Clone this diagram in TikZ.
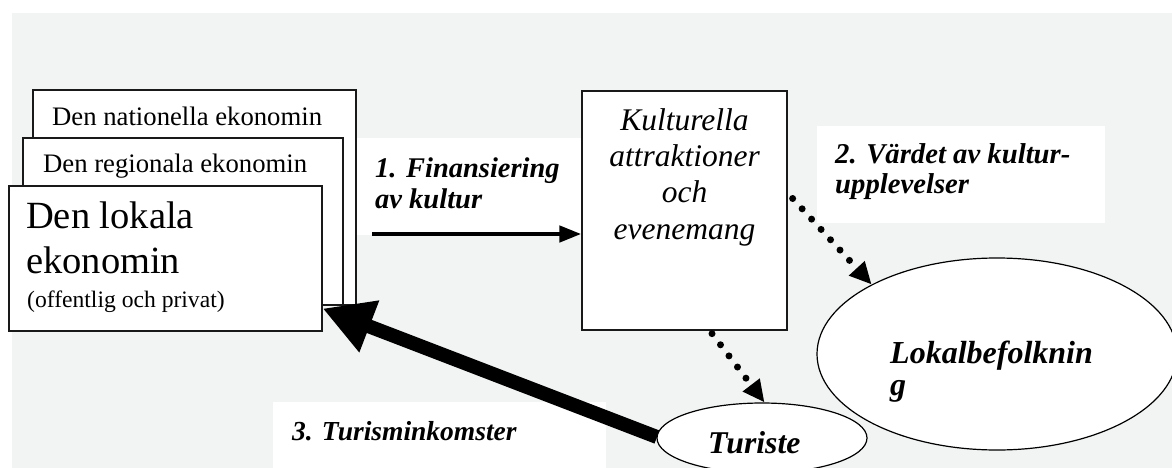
\documentclass[tikz,border=0pt]{standalone}
\usepackage{fontspec}
\setmainfont{Liberation Serif}
\usepackage{tikz}
\usetikzlibrary{positioning,arrows.meta,shapes.geometric}
\definecolor{bggray}{RGB}{242,243,243}

\begin{document}
\begin{tikzpicture}[x=1pt, y=-1pt,
  box/.style={draw=black!90, line width=1.3pt, fill=white, inner sep=0pt},
  oval/.style={ellipse, draw=black, line width=1.2pt, fill=white, inner sep=0pt},
  lab/.style={font=\fontsize{28.5}{31}\selectfont\bfseries\itshape, anchor=base west, inner sep=0pt, align=left},
  txt/.style={anchor=base west, inner sep=0pt, align=left},
  dotarrow/.style={line width=7pt, dash pattern=on 0pt off 14pt, line cap=round, -{Triangle[length=22pt,width=20pt]}}]
\clip (0,0) rectangle (1172,468);
\fill[bggray] (12,13) rectangle (1172,468);
% label backgrounds
\fill[white] (355,138) rectangle (582,235);
\fill[white] (817,126) rectangle (1105,223);
\fill[white] (273,402) rectangle (606,468);
% economy boxes (multi-line texts sit on their last baseline)
\node[box, minimum width=323pt, minimum height=215pt] (nat) at (194.5,197.5) {};
\node[txt, font=\fontsize{26.7}{30}\selectfont] (nattext) at (52,125) {Den nationella ekonomin};
\node[box, minimum width=320pt, minimum height=167pt] (reg) at (183,221.5) {};
\node[txt, font=\fontsize{26.7}{30}\selectfont] (regtext) at (43,172) {Den regionala ekonomin};
\node[box, minimum width=313pt, minimum height=145pt] (lok) at (165.5,258.5) {};
\node[txt, font=\fontsize{38.5}{45}\selectfont] (loktext) at (26,273) {Den lokala\\ekonomin};
\node[txt, font=\fontsize{23.6}{26}\selectfont] (lokdetail) at (27,307) {(offentlig och privat)};
% culture box
\node[box, minimum width=205pt, minimum height=239pt] (kultur) at (684.5,210.5) {};
\node[anchor=base, inner sep=0pt, align=center, font=\fontsize{31.5}{36.3}\selectfont\itshape] (kulturtext) at (684.5,239) {Kulturella\\attraktioner\\och\\evenemang};
% labels
\node[lab] (fin) at (375,208) {1. Finansiering\\av kultur};
\node[lab, font=\fontsize{28.7}{30}\selectfont\bfseries\itshape] (varde) at (835,193) {2. V\"ardet av kultur-\\upplevelser};
\node[lab, font=\fontsize{27.5}{30}\selectfont\bfseries\itshape] (intakt) at (292,440) {3. Turisminkomster};
% flows
\coordinate (finstart) at (372,234);
\draw[line width=4.5pt, -{Triangle[length=22pt,width=16pt]}] (finstart) -- (finstart -| kultur.west);
\node[oval, minimum width=360pt, minimum height=192pt] (lokal) at (997,354) {};
\node[txt, font=\fontsize{32}{32}\selectfont\bfseries\itshape] (lokaltext) at (890,395) {Lokalbefolknin\\g};
\draw[line width=14pt, -{Triangle[length=50pt,width=52pt]}] (657,437) coordinate (turstart) -- ([yshift=-50pt]lok.east);
\node[oval, minimum width=210pt, minimum height=70pt] (turist) at (762,438) {};
\node[txt, font=\fontsize{31.7}{32}\selectfont\bfseries\itshape] (turisttext) at (708,453) {Turiste};
\draw[dotarrow] ([xshift=5pt,yshift=12pt]kultur.east) -- (lokal.151);
\draw[dotarrow] ([xshift=27.5pt,yshift=-3pt]kultur.south) -- (turist.86);
\end{tikzpicture}
\end{document}
